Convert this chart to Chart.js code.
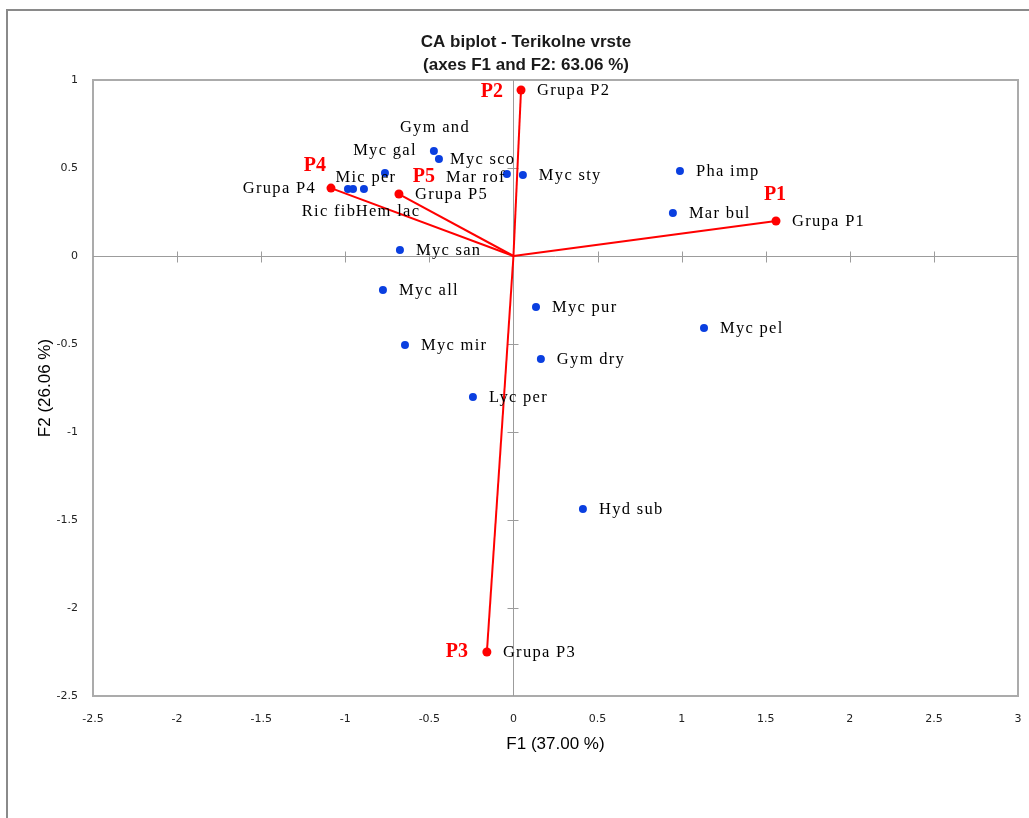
<!DOCTYPE html>
<html>
<head>
<meta charset="utf-8">
<script src="https://cdn.jsdelivr.net/npm/chart.js@4.4.1/dist/chart.umd.min.js"></script>
<style>
  html, body { margin: 0; padding: 0; background: #ffffff; }
  canvas { display: block; }
</style>
</head>
<body>
<canvas id="biplot" width="1029" height="818"></canvas>
<script>
// Species (rows) coordinates on F1 / F2
const speciesNames = ['Gym and', 'Myc gal', 'Myc sco', 'Mic per', 'Ric fib', 'Hem lac', 'Mar rof', 'Myc sty', 'Myc san',
  'Pha imp', 'Mar bul', 'Myc all', 'Myc pur', 'Myc mir', 'Gym dry', 'Lyc per', 'Myc pel', 'Hyd sub'];
const speciesF1 = [-0.473, -0.764, -0.443, -0.889, -0.984, -0.954, -0.039, 0.056, -0.675,
  0.990, 0.948, -0.776, 0.134, -0.645, 0.163, -0.241, 1.133, 0.413];
const speciesF2 = [0.597, 0.472, 0.551, 0.381, 0.381, 0.381, 0.466, 0.460, 0.034,
  0.483, 0.244, -0.193, -0.290, -0.506, -0.585, -0.801, -0.409, -1.438];

// Groups (columns) coordinates on F1 / F2
const groupNames = ['Grupa P1', 'Grupa P2', 'Grupa P3', 'Grupa P4', 'Grupa P5'];
const groupCodes = ['P1', 'P2', 'P3', 'P4', 'P5'];
const groupF1 = [1.561, 0.045, -0.158, -1.085, -0.681];
const groupF2 = [0.199, 0.943, -2.250, 0.386, 0.352];

// Axis ticks
const f1Ticks = [-2.5, -2, -1.5, -1, -0.5, 0, 0.5, 1, 1.5, 2, 2.5, 3];
const f2Ticks = [-2.5, -2, -1.5, -1, -0.5, 0, 0.5, 1];

const chartTitle = ['CA biplot - Terikolne vrste', '(axes F1 and F2: 63.06 %)'];
const f1Title = 'F1 (37.00 %)';
const f2Title = 'F2 (26.06 %)';

// Where each point label sits relative to its marker: [align, dx, dy]
const labelPlacement = {
  'Gym and': ['center', 1, -23],
  'Myc gal': ['center', 0, -22],
  'Myc sco': ['left', 11, 1],
  'Mic per': ['center', 2, -11],
  'Ric fib': ['center', -19, 23],
  'Hem lac': ['center', 35, 23],
  'Mar rof': ['right', -1, 4],
  'Grupa P4': ['right', -15, 1]
};
const codePlacement = {
  'P1': ['center', -1, -26],
  'P2': ['right', -18, 2],
  'P3': ['right', -19, 0],
  'P4': ['center', -16, -22],
  'P5': ['center', 25, -17]
};

const RED = '#ff0000';
const BLUE = '#0a3fe0';

const vectorSets = groupNames.map((name, i) => ({
  label: name,
  type: 'line',
  data: [{ x: 0, y: 0 }, { x: groupF1[i], y: groupF2[i] }],
  borderColor: RED,
  borderWidth: 2,
  pointRadius: 0,
  fill: false,
  order: 3
}));

const groupSet = {
  label: 'groups',
  data: groupF1.map((x, i) => ({ x, y: groupF2[i] })),
  backgroundColor: RED,
  borderColor: RED,
  pointRadius: 4.5,
  borderWidth: 0,
  order: 1
};

const speciesSet = {
  label: 'species',
  data: speciesF1.map((x, i) => ({ x, y: speciesF2[i] })),
  backgroundColor: BLUE,
  borderColor: BLUE,
  pointRadius: 4,
  borderWidth: 0,
  order: 2
};

const biplotDecor = {
  id: 'biplotDecor',
  beforeDraw(chart) {
    const ctx = chart.ctx;
    ctx.save();
    // outer frame
    ctx.strokeStyle = '#8a8a8a';
    ctx.lineWidth = 2;
    ctx.beginPath();
    ctx.moveTo(7, 818);
    ctx.lineTo(7, 10);
    ctx.lineTo(1029, 10);
    ctx.stroke();
    ctx.restore();
  },
  beforeDatasetsDraw(chart) {
    const ctx = chart.ctx;
    const a = chart.chartArea;
    const xs = chart.scales.x, ys = chart.scales.y;
    ctx.save();
    // plot border
    ctx.strokeStyle = '#ababab';
    ctx.lineWidth = 2;
    ctx.strokeRect(a.left, a.top, a.right - a.left, a.bottom - a.top);
    // axes through the origin
    const x0 = Math.round(xs.getPixelForValue(0)) + 0.5;
    const y0 = Math.round(ys.getPixelForValue(0)) + 0.5;
    ctx.strokeStyle = '#9c9c9c';
    ctx.lineWidth = 1;
    ctx.beginPath();
    ctx.moveTo(a.left, y0); ctx.lineTo(a.right, y0);
    ctx.moveTo(x0, a.top); ctx.lineTo(x0, a.bottom);
    f1Ticks.forEach(v => {
      if (v === 0 || v === f1Ticks[0] || v === f1Ticks[f1Ticks.length - 1]) return;
      const px = Math.round(xs.getPixelForValue(v)) + 0.5;
      ctx.moveTo(px, y0 - 5); ctx.lineTo(px, y0 + 6);
    });
    f2Ticks.forEach(v => {
      if (v === 0 || v === f2Ticks[0] || v === f2Ticks[f2Ticks.length - 1]) return;
      const py = Math.round(ys.getPixelForValue(v)) + 0.5;
      ctx.moveTo(x0 - 6, py); ctx.lineTo(x0 + 5, py);
    });
    ctx.stroke();
    ctx.restore();
  },
  afterDatasetsDraw(chart) {
    const ctx = chart.ctx;
    const xs = chart.scales.x, ys = chart.scales.y;
    ctx.save();
    ctx.textBaseline = 'middle';
    const put = (text, px, py, place, defDx) => {
      const [align, dx, dy] = place || ['left', defDx, 1];
      ctx.textAlign = align;
      ctx.fillText(text, px + dx, py + dy);
    };
    // species labels
    ctx.fillStyle = '#000000';
    ctx.font = '16.5px "Liberation Serif", "Times New Roman", serif';
    ctx.letterSpacing = '1.3px';
    speciesNames.forEach((name, i) => {
      put(name, xs.getPixelForValue(speciesF1[i]), ys.getPixelForValue(speciesF2[i]), labelPlacement[name], 16);
    });
    // group labels
    groupNames.forEach((name, i) => {
      put(name, xs.getPixelForValue(groupF1[i]), ys.getPixelForValue(groupF2[i]), labelPlacement[name], 16);
    });
    // group codes
    ctx.letterSpacing = '0px';
    ctx.fillStyle = RED;
    ctx.font = 'bold 20px "Liberation Serif", "Times New Roman", serif';
    groupCodes.forEach((code, i) => {
      put(code, xs.getPixelForValue(groupF1[i]), ys.getPixelForValue(groupF2[i]), codePlacement[code], 0);
    });
    ctx.restore();
  },
  afterDraw(chart) {
    const ctx = chart.ctx;
    ctx.save();
    ctx.fillStyle = '#1a1a1a';
    ctx.font = 'bold 17px "Liberation Sans", Arial, sans-serif';
    ctx.textAlign = 'center';
    ctx.textBaseline = 'middle';
    ctx.fillText(chartTitle[0], 526, 42);
    ctx.fillText(chartTitle[1], 526, 65);
    ctx.restore();
  }
};

const tickFont = { family: '"DejaVu Sans", Verdana, sans-serif', size: 11 };
const titleFont = { family: '"Liberation Sans", Arial, sans-serif', size: 17 };

new Chart(document.getElementById('biplot'), {
  type: 'scatter',
  data: { datasets: [...vectorSets, groupSet, speciesSet] },
  options: {
    responsive: false,
    animation: false,
    layout: { padding: { top: 80, right: 11, bottom: 0, left: 0 } },
    plugins: {
      legend: { display: false },
      tooltip: { enabled: false },
      title: { display: false }
    },
    scales: {
      x: {
        type: 'linear',
        min: f1Ticks[0],
        max: f1Ticks[f1Ticks.length - 1],
        afterBuildTicks: s => { s.ticks = f1Ticks.map(v => ({ value: v })); },
        afterFit: s => { s.height = 122; },
        grid: { display: false, drawTicks: true, tickLength: 17 },
        border: { display: false },
        ticks: { font: tickFont, color: '#222222', padding: 0, maxRotation: 0, callback: v => String(v) },
        title: { display: true, text: f1Title, font: titleFont, color: '#000000', padding: { top: 0, bottom: 63 } }
      },
      y: {
        type: 'linear',
        min: f2Ticks[0],
        max: f2Ticks[f2Ticks.length - 1],
        afterBuildTicks: s => { s.ticks = f2Ticks.map(v => ({ value: v })); },
        afterFit: s => { s.width = 93; },
        grid: { display: false, drawTicks: false },
        border: { display: false },
        ticks: { font: tickFont, color: '#222222', padding: 15, callback: v => String(v) },
        title: { display: true, text: f2Title, font: titleFont, color: '#000000', padding: { top: 35, bottom: 0 } }
      }
    }
  },
  plugins: [biplotDecor]
});
</script>
</body>
</html>
